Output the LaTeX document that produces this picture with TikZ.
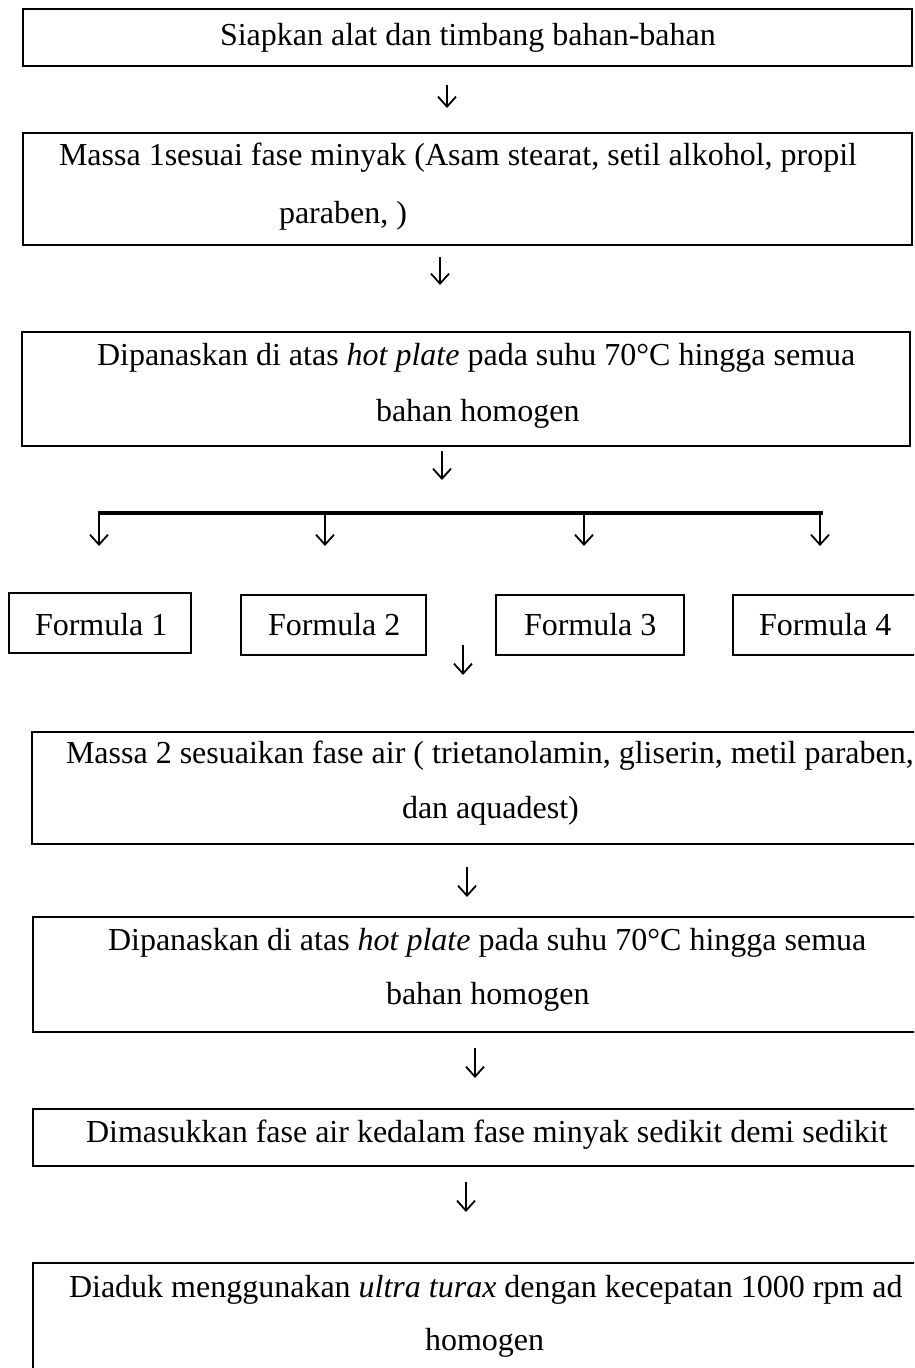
\documentclass[tikz,border=0pt]{standalone}
\usepackage{fontspec}
\setmainfont{Liberation Serif}
\usetikzlibrary{arrows.meta}
\tikzset{
  box/.style={draw=black, line width=1.2pt, anchor=north west, inner sep=0pt, outer sep=0pt},
  txt/.style={anchor=base west, inner sep=0pt, outer sep=0pt, font=\fontsize{32}{38}\selectfont},
  arr/.style={line width=1.8pt, -{Straight Barb[length=10pt, width=18pt, line width=1.8pt]}},
  barline/.style={line width=3.5pt}
}
\begin{document}
\begin{tikzpicture}[x=1pt, y=-1pt]
\useasboundingbox (0,0) rectangle (914,1368);
\clip (0,0) rectangle (914,1368);
% boxes
\node[box, minimum width=889pt, minimum height=57pt] (b1) at (23,9) {};
\node[box, minimum width=889pt, minimum height=112pt] (b2) at (23,133) {};
\node[box, minimum width=888pt, minimum height=114pt] (b3) at (22,332) {};
\node[box, minimum width=182pt, minimum height=60pt] (f1) at (9,593) {};
\node[box, minimum width=185pt, minimum height=60pt] (f2) at (241,595) {};
\node[box, minimum width=188pt, minimum height=60pt] (f3) at (496,595) {};
\node[box, minimum width=190pt, minimum height=60pt] (f4) at (733,595) {};
\node[box, minimum width=890pt, minimum height=112pt] (b4) at (32,732) {};
\node[box, minimum width=890pt, minimum height=115pt] (b5) at (33,917) {};
\node[box, minimum width=890pt, minimum height=57pt] (b6) at (33,1109) {};
\node[box, minimum width=890pt, minimum height=120pt] (b7) at (33,1263) {};
% texts
\node[txt] (t1) at (220,45) {Siapkan alat dan timbang bahan-bahan};
\node[txt] (t2a) at (59,165) {Massa 1sesuai fase minyak (Asam stearat, setil alkohol, propil};
\node[txt] (t2b) at (279,223) {paraben, )};
\node[txt] (t3a) at (97,365) {Dipanaskan di atas \textit{hot plate} pada suhu 70°C hingga semua};
\node[txt] (t3b) at (376,421) {bahan homogen};
\node[txt] (tf1) at (35,635) {Formula 1};
\node[txt] (tf2) at (268,635) {Formula 2};
\node[txt] (tf3) at (524,635) {Formula 3};
\node[txt] (tf4) at (759,635) {Formula 4};
\node[txt] (t4a) at (66,763) {Massa 2 sesuaikan fase air ( trietanolamin, gliserin, metil paraben,};
\node[txt] (t4b) at (402,818) {dan aquadest)};
\node[txt] (t5a) at (108,950) {Dipanaskan di atas \textit{hot plate} pada suhu 70°C hingga semua};
\node[txt] (t5b) at (386,1004) {bahan homogen};
\node[txt] (t6) at (86,1142) {Dimasukkan fase air kedalam fase minyak sedikit demi sedikit};
\node[txt] (t7a) at (69,1297) {Diaduk menggunakan \textit{ultra turax} dengan kecepatan 1000 rpm ad};
\node[txt] (t7b) at (425,1350) {homogen};
% arrow coordinates
\coordinate (a1s) at (447,85);  \coordinate (a1e) at (447,108);
\coordinate (a2s) at (440,257); \coordinate (a2e) at (440,285);
\coordinate (a3s) at (442,451); \coordinate (a3e) at (442,480);
\coordinate (hl) at (98,513);   \coordinate (hr) at (823,513);
\coordinate (c1s) at (99,515);  \coordinate (c1e) at (99,546);
\coordinate (c2s) at (325,515); \coordinate (c2e) at (325,546);
\coordinate (c3s) at (584,515); \coordinate (c3e) at (584,546);
\coordinate (c4s) at (820,515); \coordinate (c4e) at (820,546);
\coordinate (afs) at (463,645); \coordinate (afe) at (463,675);
\coordinate (a5s) at (467,867); \coordinate (a5e) at (467,897);
\coordinate (a6s) at (475,1048); \coordinate (a6e) at (475,1078);
\coordinate (a7s) at (466,1182); \coordinate (a7e) at (466,1212);
% connectors
\draw[arr] (a1s) -- (a1e);
\draw[arr] (a2s) -- (a2e);
\draw[arr] (a3s) -- (a3e);
\draw[barline] (hl) -- (hr);
\draw[arr] (c1s) -- (c1e);
\draw[arr] (c2s) -- (c2e);
\draw[arr] (c3s) -- (c3e);
\draw[arr] (c4s) -- (c4e);
\draw[arr] (afs) -- (afe);
\draw[arr] (a5s) -- (a5e);
\draw[arr] (a6s) -- (a6e);
\draw[arr] (a7s) -- (a7e);
\end{tikzpicture}
\end{document}
